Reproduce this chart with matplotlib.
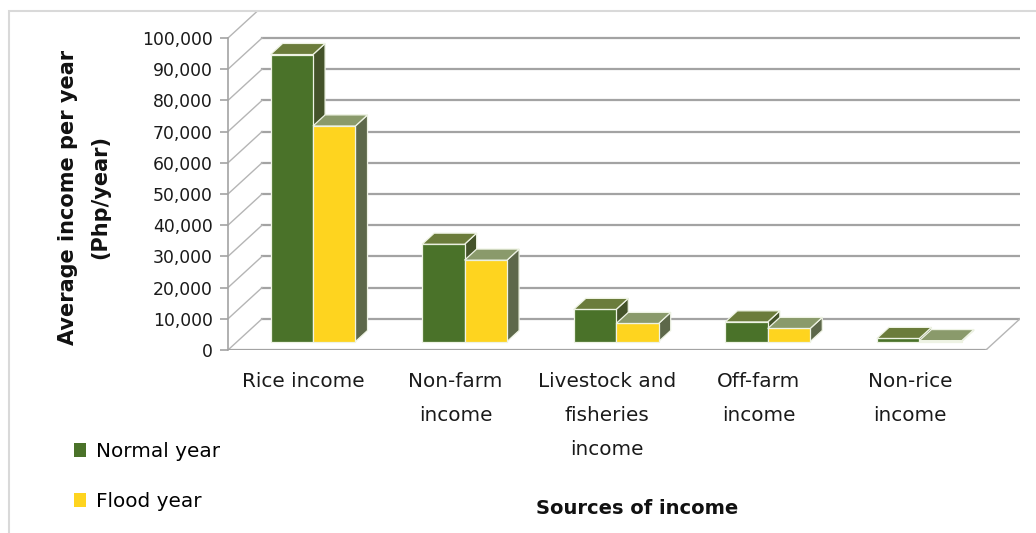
import matplotlib
matplotlib.use("Agg")
import matplotlib.pyplot as plt
from matplotlib.patches import Polygon, Patch, Rectangle

categories = ["Rice income", "Non-farm\nincome", "Livestock and\nfisheries\nincome",
              "Off-farm\nincome", "Non-rice\nincome"]
normal_year = [92000, 31200, 10300, 6300, 1000]
flood_year = [69100, 26100, 5800, 4200, 300]
series_names = ["Normal year", "Flood year"]
y_ticks = list(range(0, 100001, 10000))

# face colours: front, top, side
GREEN = ("#4a7229", "#6b7c3b", "#44532a")
YELLOW = ("#fed41f", "#8a9a6b", "#5d684a")

plt.rcParams["font.family"] = ["DejaVu Sans"]

W_PX, H_PX = 1036, 533
fig = plt.figure(figsize=(W_PX / 100, H_PX / 100), dpi=100)
ax = fig.add_axes([228 / W_PX, 183 / H_PX, (1020 - 228) / W_PX, (350 - 11) / H_PX])

n = len(categories)
DX = 0.2246       # depth of the plot box, in category units
DY = 10000        # depth of the plot box, in value units
F0, F1 = 0.27, 0.625  # front / back of the bars as fraction of depth
BAR_W = 0.28

ax.set_xlim(0, n + DX)
ax.set_ylim(0, 108650)

grid_col = "#a3a3a3"
for v in y_ticks:
    # back wall gridline and side wall diagonal
    ax.plot([DX, n + DX], [v + DY, v + DY], color=grid_col, lw=1.6, zorder=1)
    ax.plot([0, DX], [v, v + DY], color="#b5b5b5", lw=1.0, zorder=1)
# floor edges
ax.plot([0, n], [0, 0], color=grid_col, lw=1.6, zorder=1)
ax.plot([n, n + DX], [0, DY], color="#b5b5b5", lw=1.0, zorder=1)

edge = "#eef3e4"


def draw_bars(x_left, values, colors):
    front, top, side = colors
    dx0, dy0 = F0 * DX, F0 * DY
    ddx, ddy = (F1 - F0) * DX, (F1 - F0) * DY
    ax.bar([x + dx0 for x in x_left], values, width=BAR_W, bottom=dy0, align="edge",
           color=front, edgecolor=edge, linewidth=0.9, zorder=3)
    for x, v in zip(x_left, values):
        x0 = x + dx0
        y1 = dy0 + v
        top_pts = [(x0, y1), (x0 + BAR_W, y1), (x0 + BAR_W + ddx, y1 + ddy), (x0 + ddx, y1 + ddy)]
        side_pts = [(x0 + BAR_W, dy0), (x0 + BAR_W + ddx, dy0 + ddy),
                    (x0 + BAR_W + ddx, y1 + ddy), (x0 + BAR_W, y1)]
        ax.add_patch(Polygon(side_pts, closed=True, facecolor=side, edgecolor=edge,
                             linewidth=0.9, zorder=2.5))
        ax.add_patch(Polygon(top_pts, closed=True, facecolor=top, edgecolor=edge,
                             linewidth=0.9, zorder=3.5))


centers = [i + 0.5 for i in range(n)]
draw_bars([c - BAR_W for c in centers], normal_year, GREEN)
draw_bars([c for c in centers], flood_year, YELLOW)

# axes styling
for s in ["top", "right", "bottom"]:
    ax.spines[s].set_visible(False)
ax.spines["left"].set_color(grid_col)
ax.spines["left"].set_linewidth(1.2)
ax.spines["left"].set_bounds(0, 100000)
ax.set_yticks(y_ticks)
ax.set_yticklabels([f"{v:,}" for v in y_ticks], fontsize=12.4, color="#1a1a1a")
ax.tick_params(axis="y", length=6, width=1.2, color=grid_col, pad=5)
ax.set_xticks([])
ax.patch.set_alpha(0)

# category labels under the front edge of the floor
for c, label in zip(centers, categories):
    ax.annotate(label, xy=(c, 0), xycoords=("data", "axes fraction"),
                xytext=(0, -16), textcoords="offset points",
                ha="center", va="top", ma="center", fontsize=14.4,
                color="#1a1a1a", linespacing=2.0)

fig.text(84 / W_PX, 1 - 197 / H_PX, "Average income per year\n(Php/year)",
         rotation=90, ha="center", va="center", ma="center",
         fontsize=15, fontweight="bold", linespacing=1.72, color="#111111")
fig.text(637 / W_PX, 1 - 508 / H_PX, "Sources of income", ha="center", va="center",
         fontsize=14, fontweight="bold", color="#111111")

handles = [Patch(facecolor=GREEN[0]), Patch(facecolor=YELLOW[0])]
fig.legend(handles, series_names, loc="upper left", bbox_to_anchor=(56 / W_PX, 1 - 424 / H_PX),
           frameon=False, fontsize=14.4, handlelength=0.6, handleheight=0.75,
           handletextpad=0.5, labelspacing=1.55)

# chart border
fig.patches.append(Rectangle((9 / W_PX, -0.1), 1.2, 1 - 11 / H_PX + 0.1,
                             transform=fig.transFigure, fill=False,
                             edgecolor="#d9d9d9", linewidth=1.5))

fig.savefig("out.png", dpi=100)
